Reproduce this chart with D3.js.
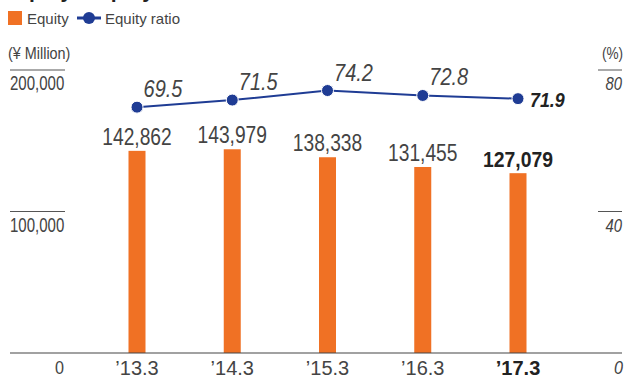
<!DOCTYPE html>
<html><head><meta charset="utf-8">
<script src="https://cdn.jsdelivr.net/npm/d3@7"></script>
<style>
body{margin:0;background:#fff;}
text{font-family:"Liberation Sans",Arial,Helvetica,sans-serif;}
</style></head>
<body><svg id="c" width="628" height="378"></svg>
<script>
const categories = ["’13.3","’14.3","’15.3","’16.3","’17.3"];
const equity = [142862,143979,138338,131455,127079];
const ratio = [69.5,71.5,74.2,72.8,71.9];
const leftTicks = [100000,200000];
const rightTicks = [40,80];

const svg = d3.select("#c");
const orange = "#f07124", blue = "#1f3c94", grey = "#444";
const x = d3.scalePoint().domain(categories).range([137,518]);
const yL = d3.scaleLinear().domain([0,200000]).range([353,70]);
const yR = d3.scaleLinear().domain([0,80]).range([353,70]);
const barW = 17;
const fmt = d3.format(",");

// text helper with horizontal condensing
function txt(px, py, s, o={}){
  const t = svg.append("text")
    .attr("transform",`translate(${px},${py}) scale(${o.sx||1},1)`)
    .attr("font-size",o.size||16)
    .attr("fill",o.fill||grey)
    .attr("text-anchor",o.anchor||"start")
    .text(s);
  if(o.bold) t.attr("font-weight","bold");
  if(o.italic) t.attr("font-style","italic");
  return t;
}

// title (clipped at top as in reference)
txt(8,-2,"Equity / Equity Ratio",{size:21,bold:true,fill:"#222"});

// legend
svg.append("rect").attr("x",8).attr("y",11).attr("width",14).attr("height",14).attr("fill",orange);
txt(27,24,"Equity",{size:15});
svg.append("line").attr("x1",77).attr("x2",101).attr("y1",18).attr("y2",18).attr("stroke",blue).attr("stroke-width",3);
svg.append("circle").attr("cx",89).attr("cy",18).attr("r",6).attr("fill",blue);
txt(105,24,"Equity ratio",{size:15});

// axis units
txt(8,59,"(¥ Million)",{size:16,sx:0.9});
txt(623,59,"(%)",{size:16,sx:0.85,anchor:"end"});

// ticks
leftTicks.forEach(t=>{
  svg.append("line").attr("x1",10).attr("x2",65).attr("y1",yL(t)).attr("y2",yL(t)).attr("stroke","#555").attr("stroke-width",1);
  txt(10,yL(t)+20,fmt(t),{size:19.5,sx:0.77});
});
rightTicks.forEach(t=>{
  svg.append("line").attr("x1",598).attr("x2",622).attr("y1",yR(t)).attr("y2",yR(t)).attr("stroke","#555").attr("stroke-width",1);
  txt(622,yR(t)+20,String(t),{size:17.5,sx:0.85,italic:true,anchor:"end"});
});
txt(64,374,"0",{size:19,sx:0.85,anchor:"end"});
txt(623,374,"0",{size:19,sx:0.85,italic:true,anchor:"end"});

// bars
svg.selectAll("rect.bar").data(equity).enter().append("rect").attr("class","bar")
  .attr("x",(d,i)=>x(categories[i])-barW/2).attr("width",barW)
  .attr("y",d=>yL(d)).attr("height",d=>yL(0)-yL(d)).attr("fill",orange);

// baseline
svg.append("line").attr("x1",10).attr("x2",622).attr("y1",353).attr("y2",353).attr("stroke","#444").attr("stroke-width",1.2);

// x labels
categories.forEach((c,i)=>{
  txt(x(c),375,c,{size:20,anchor:"middle",bold:i===4,fill:i===4?"#222":grey});
});

// bar value labels
equity.forEach((v,i)=>{
  txt(x(categories[i]),yL(v)-6,fmt(v),{size:i===4?22:24,sx:i===4?0.88:0.8,anchor:"middle",bold:i===4,fill:i===4?"#222":grey});
});

// line
const line = d3.line().x((d,i)=>x(categories[i])).y(d=>yR(d));
svg.append("path").datum(ratio).attr("d",line).attr("fill","none").attr("stroke",blue).attr("stroke-width",2);
svg.selectAll("circle.pt").data(ratio).enter().append("circle").attr("class","pt")
  .attr("cx",(d,i)=>x(categories[i])).attr("cy",d=>yR(d)).attr("r",6).attr("fill",blue)
  .attr("stroke","#fff").attr("stroke-width",1);

// ratio labels
ratio.forEach((v,i)=>{
  if(i===4) txt(x(categories[i])+12,yR(v)+8,v.toFixed(1),{size:21,sx:0.85,italic:true,bold:true,fill:"#222"});
  else txt(x(categories[i])+26,yR(v)-10,v.toFixed(1),{size:23.5,sx:0.85,italic:true,anchor:"middle"});
});
</script></body></html>
